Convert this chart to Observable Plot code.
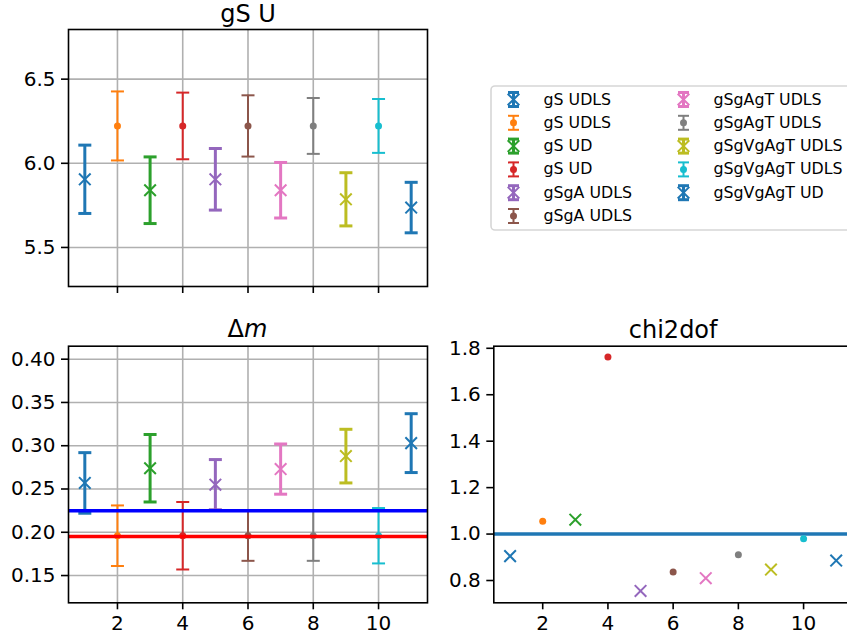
<!DOCTYPE html>
<html><head><meta charset="utf-8">
<script src="https://cdn.jsdelivr.net/npm/d3@7"></script>
<script src="https://cdn.jsdelivr.net/npm/@observablehq/plot@0.6"></script>
<style>
body{margin:0;background:#fff;overflow:hidden;}
#fig{position:relative;width:847px;height:641px;overflow:hidden;background:#fff;}
#fig > svg, #fig > figure{position:absolute;margin:0;}
</style></head><body><div id="fig"></div>
<script>
// ---- data ----
const xIndex = [1,2,3,4,5,6,7,8,9,10,11];
const seriesLabels = ["gS UDLS","gS UDLS","gS UD","gS UD","gSgA UDLS","gSgA UDLS","gSgAgT UDLS","gSgAgT UDLS","gSgVgAgT UDLS","gSgVgAgT UDLS","gSgVgAgT UD"];
const seriesColors = ["#1f77b4","#ff7f0e","#2ca02c","#d62728","#9467bd","#8c564b","#e377c2","#7f7f7f","#bcbd22","#17becf","#1f77b4"];
const seriesMarkers = ["x",".","x",".","x",".","x",".","x",".","x"];
const gsU = [5.905,6.222,5.840,6.222,5.905,6.222,5.840,6.222,5.786,6.222,5.737];
const gsUErr = [0.203,0.205,0.198,0.198,0.183,0.182,0.165,0.166,0.158,0.160,0.150];
const dm = [0.257,0.196,0.274,0.196,0.255,0.196,0.273,0.196,0.288,0.196,0.303];
const dmErr = [0.035,0.035,0.039,0.039,0.029,0.029,0.029,0.029,0.031,0.032,0.034];
const chi2 = [0.905,1.055,1.062,1.763,0.755,0.837,0.810,0.911,0.847,0.980,0.886];
const dmRefLines = [{y:0.225, color:"#0000ff"},{y:0.195, color:"#ff0000"}];
const chi2RefLine = [1.0];
const xTicks = [2,4,6,8,10];
const gsUTicks = [5.5,6.0,6.5];
const dmTicks = [0.15,0.20,0.25,0.30,0.35,0.40];
const chi2Ticks = [0.8,1.0,1.2,1.4,1.6,1.8];
const titles = ["gS U","Δm","chi2dof"];

// ---- helpers ----
const FONT = "DejaVu Sans";
const capSym = {draw(ctx,size){const r=Math.sqrt(size/Math.PI);ctx.moveTo(-r,0);ctx.lineTo(r,0);}};
const xSym = {draw(ctx,size){const r=Math.sqrt(size/Math.PI);ctx.moveTo(-r,-r);ctx.lineTo(r,r);ctx.moveTo(-r,r);ctx.lineTo(r,-r);}};

const rows = (vals, errs) => xIndex.map((x,i)=>({
  x, v: vals[i], lo: errs? vals[i]-errs[i] : null, hi: errs? vals[i]+errs[i]: null,
  c: seriesColors[i], m: seriesMarkers[i], lw: seriesMarkers[i]==="x"?3:2
}));

function errMarks(data){
  const xs = data.filter(d=>d.m==="x"), ds = data.filter(d=>d.m===".");
  return [
    Plot.ruleX(data,{x:"x",y1:"lo",y2:"hi",stroke:"c",strokeWidth:"lw"}),
    Plot.dot(data,{x:"x",y:"lo",symbol:capSym,r:6.5,stroke:"c",strokeWidth:"lw",fill:"none"}),
    Plot.dot(data,{x:"x",y:"hi",symbol:capSym,r:6.5,stroke:"c",strokeWidth:"lw",fill:"none"}),
    Plot.dot(xs,{x:"x",y:"v",symbol:xSym,r:5.8,stroke:"c",strokeWidth:2,fill:"none"}),
    Plot.dot(ds,{x:"x",y:"v",r:3.5,fill:"c",stroke:null})
  ];
}
function gridMarks(yt){
  return [
    Plot.gridX(xTicks,{stroke:"#b0b0b0",strokeOpacity:1,strokeWidth:1.6}),
    Plot.gridY(yt,{stroke:"#b0b0b0",strokeOpacity:1,strokeWidth:1.6})
  ];
}
const axY = (t,fmt)=>Plot.axisY({ticks:t,tickSize:7,tickPadding:6,strokeWidth:1.6,fontSize:20,tickFormat:fmt,fill:"#000",label:null});
const axX = (show)=>Plot.axisX({ticks:xTicks,tickSize:7,tickPadding:6,strokeWidth:1.6,fontSize:20,tickFormat: show? d=>String(d) : ()=>"",fill:"#000",label:null});
const frameMark = Plot.frame({stroke:"#000",strokeWidth:1.6});

const fig = document.getElementById("fig");
function place(el,left,top){ el.style.left=left+"px"; el.style.top=top+"px"; fig.appendChild(el); }

// ---- panel 1: gS U ----
const p1 = Plot.plot({
  width:440,height:300,marginLeft:68,marginRight:13,marginTop:29,marginBottom:14,
  style:{fontFamily:FONT,background:"transparent",color:"#000"},
  x:{domain:[0.5,11.5],label:null},y:{domain:[5.268,6.795],label:null},
  marks:[...gridMarks(gsUTicks),...errMarks(rows(gsU,gsUErr)),axY(gsUTicks,d3.format(".1f")),axX(false),frameMark,
    Plot.text([titles[0]],{frameAnchor:"top",dy:-8,text:d=>d,fontSize:24,fill:"#000",lineAnchor:"bottom"})]
});
place(p1,0,0);

// ---- panel 2: Δm ----
const p2 = Plot.plot({
  width:440,height:341,marginLeft:68,marginRight:13,marginTop:45.7,marginBottom:38.7,
  style:{fontFamily:FONT,background:"transparent",color:"#000"},
  x:{domain:[0.5,11.5],label:null},y:{domain:[0.1185,0.415],label:null},
  marks:[...gridMarks(dmTicks),...errMarks(rows(dm,dmErr)),
    Plot.ruleY(dmRefLines,{y:"y",stroke:"color",strokeWidth:3.5}),
    axY(dmTicks,d3.format(".2f")),axX(true),frameMark]
});
place(p2,0,300);
// title Δm with italic m
{
  const svg = d3.select(p2);
  const t = svg.append("text").attr("x",68+(427-68)/2).attr("y",45.7-9).attr("text-anchor","middle")
    .attr("font-family",FONT).attr("font-size",24).attr("fill","#000");
  t.append("tspan").text(titles[1].slice(0,1));
  t.append("tspan").attr("font-style","italic").text(titles[1].slice(1));
}

// ---- panel 3: chi2dof ----
const p3 = Plot.plot({
  width:420,height:341,marginLeft:53.3,marginRight:8,marginTop:45.7,marginBottom:38.7,
  style:{fontFamily:FONT,background:"transparent",color:"#000"},
  x:{domain:[0.5,11.5],label:null},y:{domain:[0.704,1.809],label:null},
  marks:[
    Plot.ruleY(chi2RefLine,{stroke:"#1f77b4",strokeWidth:3.5}),
    Plot.dot(rows(chi2).filter(d=>d.m==="x"),{x:"x",y:"v",symbol:xSym,r:5.8,stroke:"c",strokeWidth:2,fill:"none"}),
    Plot.dot(rows(chi2).filter(d=>d.m==="."),{x:"x",y:"v",r:3.5,fill:"c",stroke:null}),
    axY(chi2Ticks,d3.format(".1f")),axX(true),frameMark,
    Plot.text([titles[2]],{frameAnchor:"top",dy:-8,text:d=>d,fontSize:24,fill:"#000",lineAnchor:"bottom"})]
});
place(p3,440,300);

// ---- legend ----
const legendRows = seriesLabels.map((label,i)=>({
  col: i<6?0:1, row: i<6?i:i-6, label, c: seriesColors[i], m: seriesMarkers[i], lw: seriesMarkers[i]==="x"?3:2
}));
const legendW = 357, legendH = 150;
const colMarkerX = [23, 193], colTextX = [53, 223];
const rowY = d => 14 + d.row*23.3;
const lg = Plot.plot({
  width:legendW,height:legendH,margin:0,
  style:{fontFamily:FONT,background:"transparent",color:"#000"},
  x:{domain:[0,legendW],range:[0,legendW],axis:null},
  y:{domain:[0,legendH],range:[0,legendH],axis:null},
  marks:[
    Plot.rect([0],{x1:1,x2:legendW+10,y1:1,y2:legendH-5,fill:"#fff",fillOpacity:0.8,stroke:"#d6d6d6",strokeWidth:1.6,rx:4}),
    Plot.ruleX(legendRows,{x:d=>colMarkerX[d.col],y1:d=>rowY(d)-7,y2:d=>rowY(d)+7,stroke:"c",strokeWidth:"lw"}),
    Plot.dot(legendRows,{x:d=>colMarkerX[d.col],y:d=>rowY(d)-7,symbol:capSym,r:5.5,stroke:"c",strokeWidth:"lw",fill:"none"}),
    Plot.dot(legendRows,{x:d=>colMarkerX[d.col],y:d=>rowY(d)+7,symbol:capSym,r:5.5,stroke:"c",strokeWidth:"lw",fill:"none"}),
    Plot.dot(legendRows.filter(d=>d.m==="x"),{x:d=>colMarkerX[d.col],y:rowY,symbol:xSym,r:5.8,stroke:"c",strokeWidth:2,fill:"none"}),
    Plot.dot(legendRows.filter(d=>d.m==="."),{x:d=>colMarkerX[d.col],y:rowY,r:3.5,fill:"c",stroke:null}),
    Plot.text(legendRows,{x:d=>colTextX[d.col],y:rowY,text:"label",textAnchor:"start",fontSize:15.8,fill:"#000"})
  ]
});
place(lg,490,85);
</script></body></html>
